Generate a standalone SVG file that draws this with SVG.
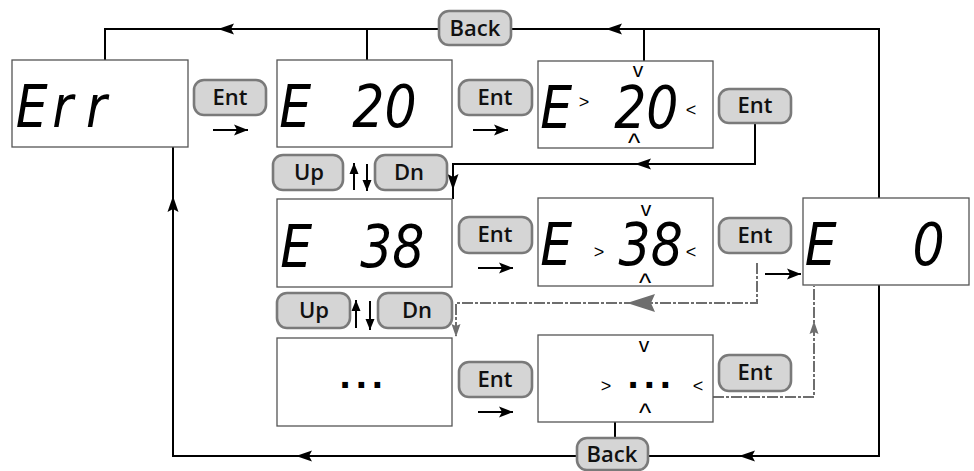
<svg xmlns="http://www.w3.org/2000/svg" xmlns:xlink="http://www.w3.org/1999/xlink" width="974" height="471" viewBox="0 0 974 471">
<defs>
<style>
.box{fill:#fff;stroke:#555;stroke-width:1.3}
.btn rect{fill:#d5d5d5;stroke:#7a7a7a;stroke-width:2.6}
.btn text{font-family:"Open Sans","Liberation Sans",Arial,sans-serif;font-weight:600;font-size:22px;fill:#111;text-anchor:middle}
.seg{font-family:"DejaVu Sans","Liberation Sans",sans-serif;font-style:oblique;font-size:58px;fill:#000}
.chev{font-family:"Liberation Sans",Arial,sans-serif;font-size:21px;fill:#000;text-anchor:middle}
.car{font-family:"Liberation Sans",Arial,sans-serif;font-size:26px;fill:#000;text-anchor:middle}
.ang{font-family:"Liberation Sans",Arial,sans-serif;font-size:18px;fill:#000;text-anchor:middle}
.dots{font-family:"DejaVu Sans",sans-serif;font-weight:bold;font-size:32px;letter-spacing:4px;fill:#000}
.wire{fill:none;stroke:#000;stroke-width:2}
.dash{fill:none;stroke:#6e6e6e;stroke-width:2;stroke-dasharray:11 2 3 2}
.hd{fill:#000}
.ghd{fill:#6e6e6e}
</style>
<path id="hd" d="M0 0 L16 -5.5 L13 0 L16 5.5 Z"/>
<path id="ghd" d="M0 0 L28 -9 L24 0 L28 9 Z"/>
<path id="shd" d="M0 0 L13 -4.5 L11 0 L13 4.5 Z"/>
<marker id="ah" markerUnits="userSpaceOnUse" markerWidth="15" markerHeight="12" refX="14" refY="6" orient="auto"><path d="M0 0.5 L14 6 L0 11.5 L3 6 Z" fill="#000"/></marker>
<marker id="sm" markerUnits="userSpaceOnUse" markerWidth="12" markerHeight="10" refX="11" refY="5" orient="auto"><path d="M0 0.5 L11 5 L0 9.5 Z" fill="#000"/></marker>
</defs>

<g id="connectors">
  <path class="wire" d="M879 198 V29 H105 V60"/>
  <path class="wire" d="M367 29 V60"/>
  <path class="wire" d="M644 29 V61"/>
  <use href="#hd" class="hd" transform="translate(218,29)"/>
  <use href="#hd" class="hd" transform="translate(606,29)"/>
  <path class="wire" d="M879 285 V456 H173 V147"/>
  <path class="wire" d="M615 422 V440"/>
  <use href="#hd" class="hd" transform="translate(739,456)"/>
  <use href="#hd" class="hd" transform="translate(296,456)"/>
  <use href="#hd" class="hd" transform="translate(173,196) rotate(90)"/>
  <path class="wire" d="M755 123 V164 H453 V199"/>
  <use href="#hd" class="hd" transform="translate(635,164)"/>
  <use href="#hd" class="hd" transform="translate(453,190) rotate(-90)"/>
  <path class="wire" d="M213 130 H248" marker-end="url(#ah)"/>
  <path class="wire" d="M473 130 H508" marker-end="url(#ah)"/>
  <path class="wire" d="M478 268 H513" marker-end="url(#ah)"/>
  <path class="wire" d="M478 412 H513" marker-end="url(#ah)"/>
  <path class="wire" d="M765 274 H801" marker-end="url(#ah)"/>
  <path class="wire" d="M354 190 V163" marker-end="url(#sm)"/>
  <path class="wire" d="M367 164 V191" marker-end="url(#sm)"/>
  <path class="wire" d="M356 328 V300" marker-end="url(#sm)"/>
  <path class="wire" d="M370 301 V330" marker-end="url(#sm)"/>
  <path class="dash" d="M757 263 V303 H456 V336"/>
  <use href="#ghd" class="ghd" transform="translate(627,303)"/>
  <use href="#shd" class="ghd" transform="translate(456,337) rotate(-90)"/>
  <path class="dash" d="M713 397 H814 V286"/>
  <use href="#shd" class="ghd" transform="translate(814,321) rotate(90)"/>
</g>

<g id="n_err">
  <rect class="box" x="12" y="60" width="176" height="87"/>
  <text class="seg" y="127" transform="scale(0.87 1)"><tspan x="18">E</tspan><tspan x="60">r</tspan><tspan x="99">r</tspan></text>
</g>
<g id="n_e20">
  <rect class="box" x="277" y="60" width="175" height="87"/>
  <text class="seg" y="127" transform="scale(0.87 1)"><tspan x="321">E </tspan><tspan x="405">20</tspan></text>
</g>
<g id="n_e20_edit">
  <rect class="box" x="538" y="61" width="175" height="87"/>
  <text class="seg" y="128" transform="scale(0.87 1)"><tspan x="621">E</tspan><tspan x="706">20</tspan></text>
  <text class="ang" x="584" y="108">&gt;</text>
  <text class="ang" x="691" y="116">&lt;</text>
  <text class="chev" x="638" y="77">v</text>
  <text class="car" x="634" y="152">^</text>
</g>
<g id="n_e38">
  <rect class="box" x="277" y="199" width="175" height="88"/>
  <text class="seg" y="267" transform="scale(0.87 1)"><tspan x="322">E </tspan><tspan x="414">38</tspan></text>
</g>
<g id="n_e38_edit">
  <rect class="box" x="538" y="198" width="175" height="88"/>
  <text class="seg" y="265" transform="scale(0.87 1)"><tspan x="621">E</tspan><tspan x="711">38</tspan></text>
  <text class="ang" x="599" y="258">&gt;</text>
  <text class="ang" x="691" y="258">&lt;</text>
  <text class="chev" x="646" y="216">v</text>
  <text class="car" x="645" y="292">^</text>
</g>
<g id="n_e0">
  <rect class="box" x="803" y="198" width="166" height="87"/>
  <text class="seg" y="265" transform="scale(0.87 1)"><tspan x="925">E </tspan><tspan x="1049">0</tspan></text>
</g>
<g id="n_dots">
  <rect class="box" x="277" y="338" width="175" height="88"/>
  <text class="dots" x="339" y="388">...</text>
</g>
<g id="n_dots_edit">
  <rect class="box" x="538" y="335" width="175" height="87"/>
  <text class="dots" x="627" y="388">...</text>
  <text class="ang" x="606" y="392">&gt;</text>
  <text class="ang" x="698" y="392">&lt;</text>
  <text class="chev" x="644" y="352">v</text>
  <text class="car" x="645" y="422">^</text>
</g>

<g id="btn_back_top" class="btn"><rect x="439" y="11" width="72" height="34" rx="10"/><text x="475" y="36">Back</text></g>
<g id="btn_ent1" class="btn"><rect x="194" y="80" width="72" height="35" rx="10"/><text x="230" y="105">Ent</text></g>
<g id="btn_ent2" class="btn"><rect x="459" y="80" width="73" height="35" rx="10"/><text x="495" y="105">Ent</text></g>
<g id="btn_ent3" class="btn"><rect x="719" y="89" width="72" height="34" rx="10"/><text x="755" y="113">Ent</text></g>
<g id="btn_up1" class="btn"><rect x="273" y="155" width="70" height="35" rx="10"/><text x="309" y="180">Up</text></g>
<g id="btn_dn1" class="btn"><rect x="375" y="155" width="72" height="35" rx="10"/><text x="409" y="180">Dn</text></g>
<g id="btn_ent4" class="btn"><rect x="459" y="217" width="73" height="36" rx="10"/><text x="495" y="242">Ent</text></g>
<g id="btn_ent5" class="btn"><rect x="719" y="218" width="72" height="35" rx="10"/><text x="755" y="243">Ent</text></g>
<g id="btn_up2" class="btn"><rect x="277" y="293" width="73" height="35" rx="10"/><text x="314" y="318">Up</text></g>
<g id="btn_dn2" class="btn"><rect x="378" y="293" width="74" height="35" rx="10"/><text x="417" y="318">Dn</text></g>
<g id="btn_ent6" class="btn"><rect x="459" y="362" width="73" height="35" rx="10"/><text x="495" y="387">Ent</text></g>
<g id="btn_ent7" class="btn"><rect x="719" y="355" width="72" height="36" rx="10"/><text x="755" y="380">Ent</text></g>
<g id="btn_back_bot" class="btn"><rect x="577" y="438" width="71" height="32" rx="10"/><text x="612" y="462">Back</text></g>
</svg>
